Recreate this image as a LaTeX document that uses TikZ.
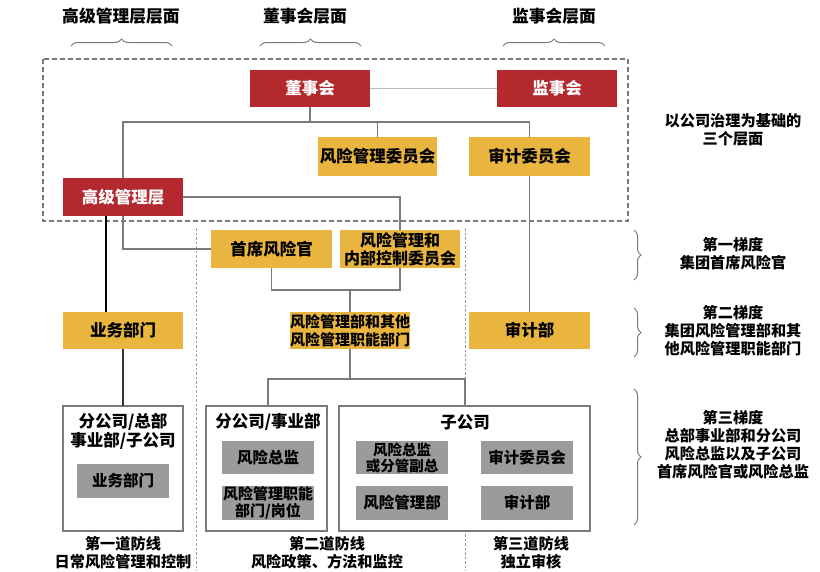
\documentclass[tikz,border=0pt]{standalone}
\usepackage{fontspec}
\setmainfont{Noto Sans CJK SC}
\usetikzlibrary{decorations.pathreplacing}
\definecolor{cred}{HTML}{B3292E}
\definecolor{cgold}{HTML}{E9B53F}
\definecolor{cgray}{HTML}{9B9B9B}
\definecolor{cline}{HTML}{7A7A7A}
\begin{document}
\begin{tikzpicture}[x=1pt,y=-1pt,
  every node/.style={inner sep=0pt, outer sep=0pt, align=center, font=\fontsize{16.5}{19}\selectfont\bfseries},
  redbox/.style={fill=cred, text=white, minimum width=120, minimum height=37},
  goldbox/.style={fill=cgold, text=black, minimum width=120, minimum height=38},
  graybox/.style={fill=cgray, text=black, minimum width=92, minimum height=33, font=\fontsize{15.5}{17.5}\selectfont\bfseries},
  outerbox/.style={draw=cline, line width=1.2pt, fill=white},
  conn/.style={draw=cline, line width=1.3pt},
  sidetext/.style={font=\fontsize{15.2}{18}\selectfont\bfseries},
  toptext/.style={font=\fontsize{16.8}{19}\selectfont\bfseries},
  brc/.style={draw=cline, line width=1pt, decorate, decoration={brace, amplitude=7pt}},
  sep/.style={draw=cgray, line width=1pt, dash pattern=on 2.5pt off 2pt}
]
\useasboundingbox (0,0) rectangle (820,571);

% dashed governance frame
\draw[draw=cline, line width=1.3pt, dash pattern=on 5pt off 3pt] (43,59) rectangle (628,221);

% dotted separators
\draw[sep] (196,228) -- (196,571);
\draw[sep] (465,228) -- (465,571);

% top labels and braces
\node[toptext] (t1) at (121,16) {高级管理层层面};
\node[toptext] (t2) at (305,16) {董事会层面};
\node[toptext] (t3) at (554,16) {监事会层面};
\draw[brc] (71,46) -- (172,46);
\draw[brc] (260,46) -- (361,46);
\draw[brc] (503,46) -- (605,46);

% boxes
\node[redbox] (dsh) at (310,88.5) {董事会};
\node[redbox] (jsh) at (557,88.5) {监事会};
\node[goldbox, minimum width=119, minimum height=39] (fxwyh) at (377.5,156.5) {风险管理委员会};
\node[goldbox, minimum width=121, minimum height=39] (sjwyh) at (529.5,156.5) {审计委员会};
\node[redbox, minimum height=38] (gjglc) at (123,197) {高级管理层};
\node[goldbox, minimum width=121] (sxfxg) at (271.5,249) {首席风险官};
\node[goldbox, font=\fontsize{16}{18}\selectfont\bfseries] (fxkz) at (400,249) {风险管理和\\内部控制委员会};
\node[goldbox, minimum height=37] (ywbm) at (123,330.5) {业务部门};
\node[goldbox, minimum height=37, font=\fontsize{15}{17.5}\selectfont\bfseries] (fxglb) at (350,330.5) {风险管理部和其他\\风险管理职能部门};
\node[goldbox, minimum width=121, minimum height=37] (sjb) at (529.5,330.5) {审计部};

% bottom outer boxes
\node[outerbox, minimum width=120, minimum height=125] (b1) at (123,468.5) {};
\node[outerbox, minimum width=121, minimum height=125] (b2) at (266.5,468.5) {};
\node[outerbox, minimum width=251, minimum height=125] (b3) at (464.5,468.5) {};
\node (b1t) at (123,431) {分公司/总部\\事业部/子公司};
\node (b2t) at (268,422) {分公司/事业部};
\node (b3t) at (465,422) {子公司};

\node[graybox, minimum height=34] (g1) at (123,481) {业务部门};
\node[graybox] (g2) at (268,457.5) {风险总监};
\node[graybox, minimum height=34, font=\fontsize{15}{16.5}\selectfont\bfseries] (g3) at (268,503) {风险管理职能\\部门/岗位};
\node[graybox, font=\fontsize{14.5}{16}\selectfont\bfseries] (g4) at (402,457.5) {风险总监\\或分管副总};
\node[graybox, minimum height=34] (g5) at (402,503) {风险管理部};
\node[graybox] (g6) at (527,457.5) {审计委员会};
\node[graybox, minimum height=34] (g7) at (527,503) {审计部};

% bottom labels
\node[sidetext] (l1) at (123,553) {第一道防线\\日常风险管理和控制};
\node[sidetext] (l2) at (327,553) {第二道防线\\风险政策、方法和监控};
\node[sidetext] (l3) at (531,553) {第三道防线\\独立审核};

% right side labels and braces
\node[sidetext] (r0) at (733,130) {以公司治理为基础的\\三个层面};
\node[sidetext] (r1) at (733,254) {第一梯度\\集团首席风险官};
\node[sidetext] (r2) at (733,331) {第二梯度\\集团风险管理部和其\\他风险管理职能部门};
\node[sidetext] (r3) at (733,445) {第三梯度\\总部事业部和分公司\\风险总监以及子公司\\首席风险官或风险总监};
\draw[brc] (634,230) -- (634,280);
\draw[brc] (634,308) -- (634,357);
\draw[brc] (634,389) -- (634,525);

% connectors
\coordinate (j1) at (310,122);
\draw[draw=cgray!70, line width=1pt] (dsh.east) -- (jsh.west);
\draw[conn] (dsh.south) -- (j1);
\draw[conn] (gjglc.north) -- (gjglc.north |- j1) -- (sjwyh.north |- j1) -- (sjwyh.north);
\draw[conn] (fxwyh.north) -- (fxwyh.north |- j1);
\draw[conn] (sjwyh.south) -- (sjb.north);
\draw[conn] (gjglc.east) -- (fxkz.north |- gjglc.east) -- (fxkz.north);
\draw[draw=black, line width=1.2pt] ([xshift=-17]gjglc.south) -- ([xshift=-17]ywbm.north);
\draw[conn] (gjglc.south) |- (sxfxg.west);
\coordinate (j2) at (350,290);
\draw[conn] (sxfxg.south) -- (sxfxg.south |- j2) -- (fxkz.south |- j2) -- (fxkz.south);
\draw[conn] (fxglb.north) -- (fxglb.north |- j2);
\coordinate (j3) at (350,379);
\draw[conn] (fxglb.south) -- (j3);
\draw[conn] ([xshift=1.5]b2.north) -- ([xshift=1.5]b2.north |- j3) -- ([xshift=0.5]b3.north |- j3) -- ([xshift=0.5]b3.north);
\draw[draw=black!80, line width=1.2pt] (ywbm.south) -- (b1.north);
\end{tikzpicture}
\end{document}
